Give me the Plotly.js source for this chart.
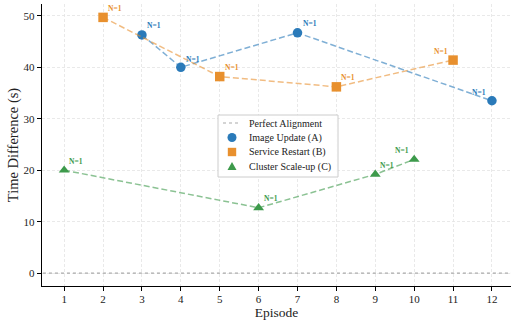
<!DOCTYPE html>
<html><head><meta charset="utf-8">
<script src="https://cdn.plot.ly/plotly-3.0.1.min.js"></script>
<style>html,body{margin:0;padding:0;background:#fff}#chart{width:511px;height:320px}</style>
</head><body><div id="chart"></div>
<script>
const episodesA = [3, 4, 7, 12];
const valuesA = [46.3, 40.0, 46.7, 33.5];
const episodesB = [2, 5, 8, 11];
const valuesB = [49.7, 38.2, 36.2, 41.4];
const episodesC = [1, 6, 9, 10];
const valuesC = [20.0, 12.7, 19.2, 22.1];
const countsA = [1, 1, 1, 1];
const countsB = [1, 1, 1, 1];
const countsC = [1, 1, 1, 1];
const alignmentX = [0.3, 12.7];
const alignmentY = [0, 0];
const xTicks = [1,2,3,4,5,6,7,8,9,10,11,12];
const yTicks = [0,10,20,30,40,50];
const legendNames = ['Perfect Alignment', 'Image Update (A)', 'Service Restart (B)', 'Cluster Scale-up (C)'];

// label offsets (px) per point: [dx, dy]
const offA = [[12,-9],[12,-8],[12,-9],[-13,-8]];
const offB = [[12,-9],[12,-9],[12,-9],[-12,-9]];
const offC = [[12,-9],[12,-9],[12,-9],[-12,-9]];

const blue = '#2a7ab9', orange = '#e8902e', green = '#3d9a4b', grey = '#aaaaaa';
const font = 'Liberation Serif, Times New Roman, serif';

const W = 511, H = 320, M = {l: 42, r: 0, t: 4, b: 34};
const PW = W - M.l - M.r, PH = H - M.t - M.b;
const px = x => (x - M.l) / PW;      // pixel -> paper x
const py = y => (H - M.b - y) / PH;  // pixel -> paper y

function series(x, y, name, color, symbol) {
  return [
    {x: x, y: y, mode: 'lines', line: {color: color, dash: '6px,3px', width: 1.5}, opacity: 0.6,
     showlegend: false, hoverinfo: 'skip'},
    {x: x, y: y, mode: 'markers', name: name, showlegend: false,
     marker: {color: color, symbol: symbol, size: 9.5, line: {width: 0}}}
  ];
}

const traces = [
  {x: alignmentX, y: alignmentY, mode: 'lines', name: legendNames[0], showlegend: false,
   line: {color: grey, dash: 'dot', width: 1.2}},
  ...series(episodesA, valuesA, legendNames[1], blue, 'circle'),
  ...series(episodesB, valuesB, legendNames[2], orange, 'square'),
  ...series(episodesC, valuesC, legendNames[3], green, 'triangle-up')
];

const annotations = [];
function addLabels(x, y, n, off, color) {
  for (let i = 0; i < x.length; i++) {
    annotations.push({x: x[i], y: y[i], text: '<b>N=' + n[i] + '</b>', showarrow: false,
      xshift: off[i][0], yshift: -off[i][1], font: {family: font, size: 7.5, color: color}});
  }
}
addLabels(episodesA, valuesA, countsA, offA, blue);
addLabels(episodesB, valuesB, countsB, offB, orange);
addLabels(episodesC, valuesC, countsC, offC, green);

// custom compact legend (box, symbols, labels)
const box = {x0: 218, x1: 338, y0: 115, y1: 177};
const rowY = [123, 137.5, 152, 166.5];
const symX = 232, textX = 247;
const shapes = [
  {type: 'rect', xref: 'paper', yref: 'paper', x0: px(box.x0), x1: px(box.x1), y0: py(box.y1), y1: py(box.y0),
   fillcolor: 'rgba(255,255,255,0.9)', line: {color: '#cccccc', width: 1}, layer: 'above'},
  {type: 'line', xref: 'paper', yref: 'paper', x0: px(symX - 9), x1: px(symX + 9), y0: py(rowY[0]), y1: py(rowY[0]),
   line: {color: grey, dash: 'dot', width: 1.2}, layer: 'above'},
  {type: 'circle', xref: 'paper', yref: 'paper', xsizemode: 'pixel', ysizemode: 'pixel',
   xanchor: px(symX), yanchor: py(rowY[1]), x0: -4.5, x1: 4.5, y0: -4.5, y1: 4.5,
   fillcolor: blue, line: {width: 0}, layer: 'above'},
  {type: 'rect', xref: 'paper', yref: 'paper', xsizemode: 'pixel', ysizemode: 'pixel',
   xanchor: px(symX), yanchor: py(rowY[2]), x0: -4.2, x1: 4.2, y0: -4.2, y1: 4.2,
   fillcolor: orange, line: {width: 0}, layer: 'above'},
  {type: 'path', xref: 'paper', yref: 'paper', xsizemode: 'pixel', ysizemode: 'pixel',
   xanchor: px(symX), yanchor: py(rowY[3]), path: 'M -4.5 -3.5 L 4.5 -3.5 L 0 4.5 Z',
   fillcolor: green, line: {width: 0}, layer: 'above'}
];
legendNames.forEach((t, i) => annotations.push({
  xref: 'paper', yref: 'paper', x: px(textX), y: py(rowY[i]), xanchor: 'left', yanchor: 'middle',
  text: t, showarrow: false, font: {family: font, size: 10, color: '#222'}
}));

const layout = {
  width: W, height: H,
  margin: M,
  paper_bgcolor: '#fff', plot_bgcolor: '#fff',
  font: {family: font, size: 11, color: '#222'},
  showlegend: false,
  xaxis: {range: [0.43, 12.49], tickvals: xTicks, ticktext: xTicks.map(String),
    showline: true, linecolor: '#000', linewidth: 1.2, ticks: 'outside', ticklen: 4,
    tickcolor: '#000', showgrid: true, gridcolor: '#e3e3e3', griddash: '3px,2px', gridwidth: 0.8,
    zeroline: false, mirror: false, ticklabelstandoff: -1,
    title: {text: 'Episode', font: {family: font, size: 13.5, color: '#222'}, standoff: 2},
    tickfont: {family: font, size: 11}},
  yaxis: {range: [-2.5, 52.3], tickvals: yTicks, ticktext: yTicks.map(String),
    showline: true, linecolor: '#000', linewidth: 1.2, ticks: 'outside', ticklen: 4,
    tickcolor: '#000', showgrid: true, gridcolor: '#e3e3e3', griddash: '3px,2px', gridwidth: 0.8,
    zeroline: false,
    title: {text: 'Time Difference (s)', font: {family: font, size: 14.5, color: '#222'}, standoff: 1},
    tickfont: {family: font, size: 11}},
  shapes: shapes,
  annotations: annotations
};

Plotly.newPlot('chart', traces, layout, {displayModeBar: false, staticPlot: true});
</script></body></html>
